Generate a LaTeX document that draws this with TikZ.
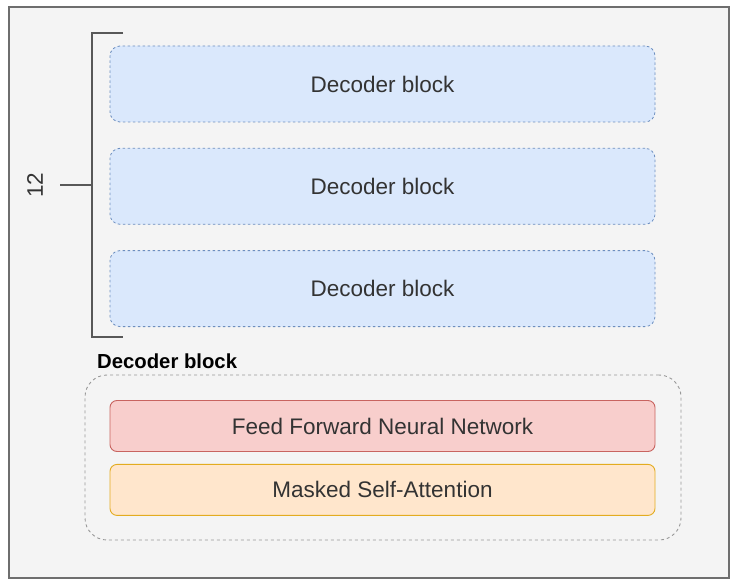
\documentclass[tikz,border=0pt]{standalone}
\usepackage{fontspec}
\setmainfont{Liberation Sans}
\usetikzlibrary{positioning}
\definecolor{bggray}{HTML}{F4F4F4}
\definecolor{framegray}{HTML}{6E6E6E}
\definecolor{txtgray}{HTML}{333333}
\definecolor{blockfill}{HTML}{DAE8FC}
\definecolor{blockdraw}{HTML}{6C8EBF}
\definecolor{ffnnfill}{HTML}{F8CECC}
\definecolor{ffnndraw}{HTML}{C86460}
\definecolor{attnfill}{HTML}{FFE6CC}
\definecolor{attndraw}{HTML}{E3AC20}
\tikzset{
x=1pt, y=-1pt, % pixel-like units, y running down
decblock/.style={draw=blockdraw, fill=blockfill, dash pattern=on 2.5pt off 2.5pt,
  rounded corners=10pt, line width=0.8pt,
  minimum width=545pt, minimum height=76pt, text=txtgray,
  font=\fontsize{22.5}{26}\selectfont}, % the stacked decoder blocks
layer/.style={rounded corners=7pt, line width=0.9pt, minimum width=545pt,
  minimum height=51pt, text=txtgray, font=\fontsize{22.5}{26}\selectfont}, % layers inside one block
node distance=25.5pt, % gap between the stacked blocks
}

\begin{document}
\begin{tikzpicture}
  \useasboundingbox (0,0) rectangle (730,585);
  \fill[white] (0,0) rectangle (730,585);
  \draw[framegray, fill=bggray, line width=1.2pt] (9,7) rectangle (729,578);

  % the stack of twelve
  \node[decblock] (dec1) at (382.5,84) {Decoder block};
  \node[decblock, below=of dec1] (dec2) {Decoder block};
  \node[decblock, below=of dec2] (dec3) {Decoder block};

  % bracket with its count
  \coordinate (brtop) at (123,33);
  \coordinate (brbot) at (123,337);
  \coordinate (brmid) at (92,185);
  \coordinate (tick) at (60,185);
  \node[rotate=90, font=\fontsize{22.5}{26}\selectfont, text=txtgray] (count) at (35,185) {12};
  \draw[framegray!80!black, line width=1.6pt] (brtop) -- (92,33) -- (92,337) -- (brbot);
  \draw[framegray!80!black, line width=1.6pt] (tick) -- (brmid);

  % one block opened up
  \node[draw=framegray!70, dashed, rounded corners=22pt, line width=0.9pt,
        minimum width=596pt, minimum height=165pt] (inner) at (383,457.5) {};
  \node[anchor=south west, inner sep=0pt, font=\bfseries\fontsize{20.3}{24}\selectfont]
        (innerlbl) at (97,369) {Decoder block};
  \node[layer, draw=ffnndraw, fill=ffnnfill] (ffnn) at (382.5,426) {Feed Forward Neural Network};
  \node[layer, draw=attndraw, fill=attnfill, below=12pt of ffnn] (attn) {Masked Self-Attention};

\end{tikzpicture}
\end{document}
